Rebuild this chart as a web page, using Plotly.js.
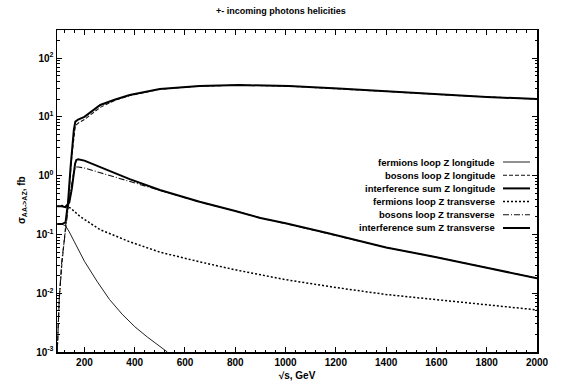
<!DOCTYPE html>
<html>
<head>
<meta charset="utf-8">
<script src="https://cdn.plot.ly/plotly-3.0.1.min.js"></script>
<style>html,body{margin:0;padding:0;background:#fff;}#chart{width:562px;height:387px;}</style>
</head>
<body>
<div id="chart"></div>
<script>
// ---- data ----
const seriesNames = [
  "fermions loop Z longitude",
  "bosons loop Z longitude",
  "interference sum Z longitude",
  "fermions loop Z transverse",
  "bosons loop Z transverse",
  "interference sum Z transverse"
];

const xFermL = [92, 100, 110, 125, 140, 160, 180, 200, 250, 300, 350, 400, 450, 500, 530];
const yFermL = [0.15, 0.15, 0.15, 0.14, 0.11, 0.075, 0.05, 0.035, 0.016, 0.0078, 0.0044, 0.0027, 0.0018, 0.00125, 0.001];

const xBosL = [92, 96, 100, 110, 125, 140, 150, 158, 164, 175, 200, 263, 320, 380, 500, 658, 816, 1013, 1210, 1447, 1645, 1800, 2000];
const yBosL = [0.001, 0.003, 0.008, 0.03, 0.12, 0.6, 2.2, 5.0, 7.0, 7.8, 9.0, 14.5, 19, 23, 29.5, 33.3, 34.6, 33.3, 30.3, 26.4, 23.5, 21.8, 20.0];

const xIntL = [92, 110, 125, 135, 145, 152, 158, 164, 175, 200, 263, 320, 380, 500, 658, 816, 1013, 1210, 1447, 1645, 1800, 2000];
const yIntL = [0.15, 0.15, 0.16, 0.35, 1.4, 3.5, 6.0, 8.3, 9.0, 10, 15.9, 19.5, 23.5, 29.7, 33.4, 34.7, 33.4, 30.3, 26.4, 23.5, 21.8, 20.1];

const xFermT = [92, 110, 130, 145, 184, 263, 380, 500, 660, 800, 1000, 1200, 1400, 1600, 1800, 2000];
const yFermT = [0.3, 0.31, 0.3, 0.28, 0.2, 0.12, 0.075, 0.05, 0.034, 0.025, 0.017, 0.0125, 0.0095, 0.0078, 0.0063, 0.0052];

const xBosT = [92, 100, 110, 125, 140, 155, 164, 175, 200, 263, 380, 460, 500, 658, 800, 900, 1000, 1170, 1400, 1600, 1800, 2000];
const yBosT = [0.001, 0.008, 0.035, 0.13, 0.4, 1.0, 1.4, 1.4, 1.35, 1.12, 0.8, 0.63, 0.56, 0.355, 0.25, 0.19, 0.153, 0.104, 0.06, 0.041, 0.027, 0.018];

const xIntT = [92, 110, 125, 140, 150, 158, 163, 168, 175, 200, 263, 380, 500, 658, 800, 900, 1000, 1170, 1400, 1600, 1800, 2000];
const yIntT = [0.3, 0.3, 0.29, 0.35, 0.6, 1.1, 1.6, 1.85, 1.9, 1.8, 1.4, 0.87, 0.57, 0.36, 0.25, 0.19, 0.155, 0.105, 0.06, 0.041, 0.027, 0.018];

const xTickVals = [200, 400, 600, 800, 1000, 1200, 1400, 1600, 1800, 2000];
const yTickVals = [0.001, 0.01, 0.1, 1, 10, 100];
const yTickText = ["10<sup>-3</sup>", "10<sup>-2</sup>", "10<sup>-1</sup>", "10<sup>0</sup>", "10<sup>1</sup>", "10<sup>2</sup>"];

// ---- styles ----
const styles = [
  {color: "#222", width: 1, dash: "solid"},
  {color: "#111", width: 1.1, dash: "4px,2px"},
  {color: "#000", width: 2, dash: "solid"},
  {color: "#000", width: 1.5, dash: "2px,2px"},
  {color: "#111", width: 1.1, dash: "6px,2px,1px,2px"},
  {color: "#000", width: 2, dash: "solid"}
];

const xs = [xFermL, xBosL, xIntL, xFermT, xBosT, xIntT];
const ys = [yFermL, yBosL, yIntL, yFermT, yBosT, yIntT];

const traces = xs.map((x, i) => ({
  x: x, y: ys[i], type: "scatter", mode: "lines", name: seriesNames[i],
  line: Object.assign({shape: "linear"}, styles[i]), showlegend: false
}));

const FONT = "Liberation Sans, Arial, sans-serif";

// legend drawn gnuplot-style: right-aligned text with sample to the right
const W = 562, H = 387, mL = 57, mR = 25, mT = 30, mB = 35;
const pw = W - mL - mR, ph = H - mT - mB;
const legTop = 162, legStep = 13.2, legTextRight = 497, legS0 = 503, legS1 = 530;
const annotations = [], shapes = [];
seriesNames.forEach((n, i) => {
  const py = legTop + i * legStep;
  const yp = (H - mB - py) / ph;
  annotations.push({
    text: n, xref: "paper", yref: "paper",
    x: (legTextRight - mL) / pw, y: yp, xanchor: "right", yanchor: "middle",
    showarrow: false, font: {family: FONT, size: 9.5, color: "#000", weight: "bold"}
  });
  shapes.push({
    type: "line", xref: "paper", yref: "paper",
    x0: (legS0 - mL) / pw, x1: (legS1 - mL) / pw, y0: yp, y1: yp,
    line: Object.assign({}, styles[i])
  });
});

// y-axis title (rotated), placed like the reference
annotations.push({
  text: "σ<sub>AA->AZ</sub>, fb", xref: "paper", yref: "paper",
  x: (22 - mL) / pw, y: (H - mB - 200) / ph, xanchor: "center", yanchor: "middle",
  textangle: -90, showarrow: false, font: {family: FONT, size: 10, color: "#000", weight: "bold"}
});

const tickFont = {family: FONT, size: 10, color: "#000", weight: "bold"};

const layout = {
  width: W, height: H,
  margin: {l: mL, r: mR, t: mT, b: mB},
  paper_bgcolor: "#fff", plot_bgcolor: "#fff",
  title: {text: "+- incoming photons helicities", x: 0.5, xanchor: "center", y: 0.972, yanchor: "middle",
          font: {family: FONT, size: 9, color: "#000", weight: "bold"}},
  xaxis: {
    type: "linear", range: [91, 2000],
    tickvals: xTickVals, ticks: "inside", ticklen: 5, tickwidth: 1, tickcolor: "#000",
    showline: true, linecolor: "#000", linewidth: 1.5, mirror: "allticks",
    showgrid: false, zeroline: false, tickfont: tickFont,
    minor: {dtick: 40, tick0: 0, ticks: "inside", ticklen: 2.5, tickcolor: "#000", showgrid: false},
    title: {text: "√s, GeV", standoff: 5, font: {family: FONT, size: 10, color: "#000", weight: "bold"}}
  },
  yaxis: {
    type: "log", range: [-3, 2.477],
    tickvals: yTickVals, ticktext: yTickText, ticks: "inside", ticklen: 5, tickwidth: 1, tickcolor: "#000",
    showline: true, linecolor: "#000", linewidth: 1.5, mirror: "allticks",
    showgrid: false, zeroline: false, tickfont: tickFont,
    minor: {ticks: "inside", ticklen: 2.5, tickcolor: "#000", showgrid: false, dtick: "D1"}
  },
  annotations: annotations,
  shapes: shapes,
  showlegend: false
};

Plotly.newPlot("chart", traces, layout, {staticPlot: true, displayModeBar: false});
</script>
</body>
</html>
